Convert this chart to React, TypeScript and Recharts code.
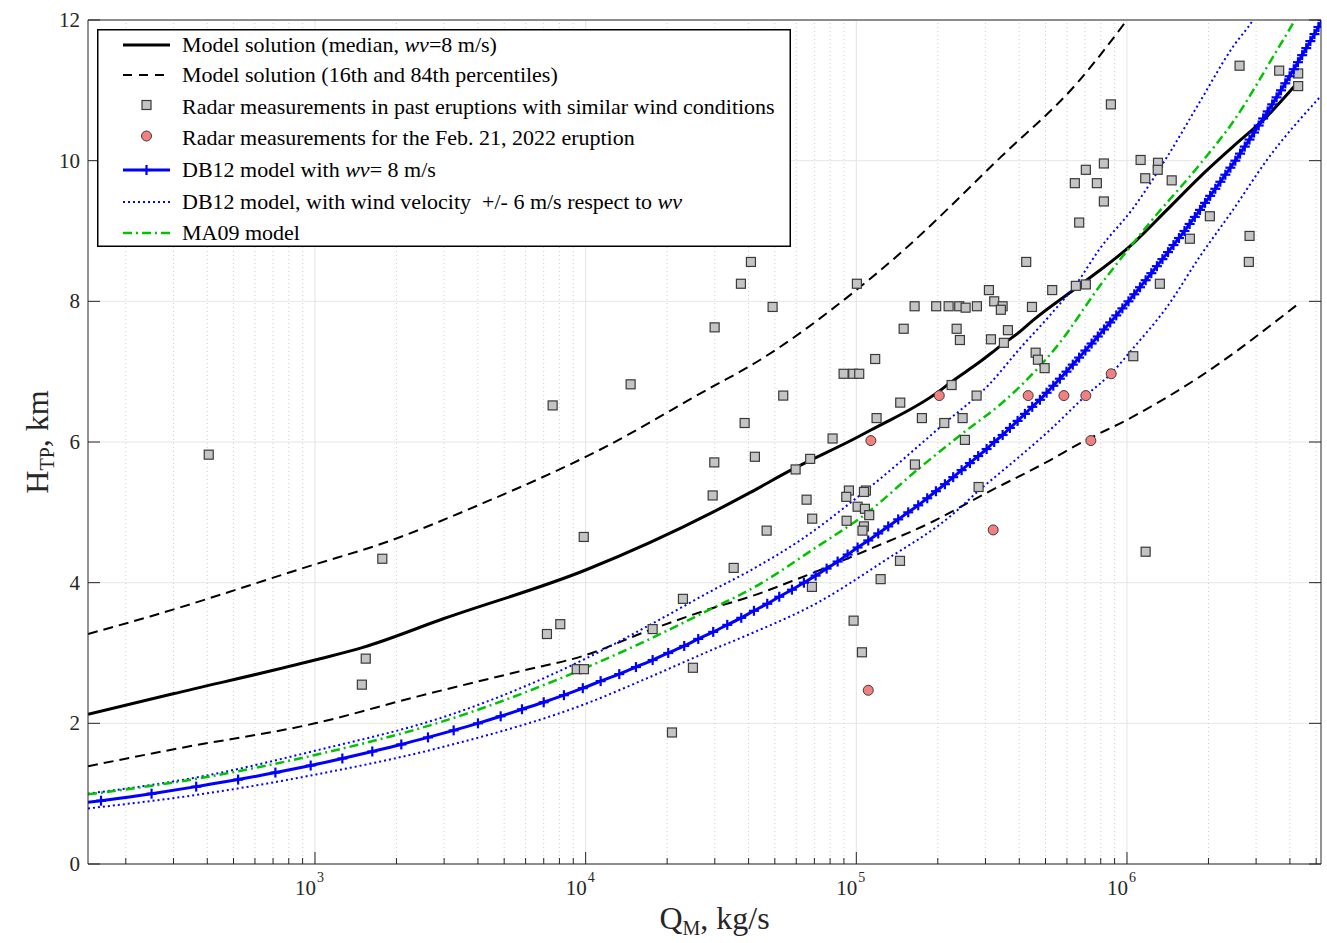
import React from "react";
import {
  ComposedChart,
  Line,
  Scatter,
  XAxis,
  YAxis,
  CartesianGrid,
  ReferenceLine,
  Legend,
} from "recharts";

const W = 1327;
const H = 943;
const AXIS = "#262626";
const FONT = '"Liberation Serif", "Times New Roman", serif';

const X_DOMAIN: [number, number] = [145, 5.21e6];
const Y_DOMAIN: [number, number] = [0, 12];
const DECADES = [1e3, 1e4, 1e5, 1e6];
const MINOR = [
  200, 300, 400, 500, 600, 700, 800, 900,
  2000, 3000, 4000, 5000, 6000, 7000, 8000, 9000,
  2e4, 3e4, 4e4, 5e4, 6e4, 7e4, 8e4, 9e4,
  2e5, 3e5, 4e5, 5e5, 6e5, 7e5, 8e5, 9e5,
  2e6, 3e6, 4e6, 5e6,
];
const X_TICKS = [...MINOR, ...DECADES].sort((a, b) => a - b);
const Y_TICKS = [0, 2, 4, 6, 8, 10, 12];

// [Q (kg/s), H (km)]
const MEDIAN: [number, number][] = [
  [145, 2.13], [299, 2.42], [1000, 2.9], [1504, 3.08], [2996, 3.49], [10000, 4.18],
  [29780, 5.01], [40450, 5.28], [58000, 5.61], [100000, 6.06], [113200, 6.17],
  [202000, 6.72], [221800, 6.84], [286200, 7.14], [339300, 7.36], [402200, 7.57],
  [449300, 7.73], [687300, 8.26], [1052000, 8.82], [1405000, 9.3], [1861000, 9.77],
  [2464000, 10.2], [3290000, 10.63], [4248000, 11.1],
];

const P84: [number, number][] = [
  [145, 3.27], [246, 3.52], [1000, 4.26], [1783, 4.56], [4175, 5.13], [11290, 5.89],
  [29530, 6.79], [40450, 7.08], [100000, 8.16], [144900, 8.68], [339300, 10.04],
  [653100, 11.1], [1000000, 12.0], [1216000, 12.45],
];

const P16: [number, number][] = [
  [145, 1.39], [309, 1.64], [1000, 2.0], [2381, 2.38], [5574, 2.73], [10000, 2.97],
  [16840, 3.31], [29530, 3.64], [40450, 3.8], [60350, 4.05], [109400, 4.46],
  [191900, 4.87], [293600, 5.25], [519100, 5.74], [669900, 5.98], [1052000, 6.36],
  [1861000, 6.93], [4248000, 7.95],
];

const DB12_H = [
  0.8, 0.9, 1.0, 1.1, 1.2, 1.3, 1.4, 1.5, 1.6, 1.7, 1.8, 1.9, 2.0, 2.1, 2.2, 2.3, 2.4,
  2.5, 2.6, 2.7, 2.8, 2.9, 3.0, 3.1, 3.2, 3.3, 3.4, 3.5, 3.6, 3.7, 3.8, 3.9, 4.0, 4.1,
  4.2, 4.3, 4.4, 4.5, 4.6, 4.7, 4.8, 4.9, 5.0, 5.1, 5.2, 5.3, 5.4, 5.5, 5.6, 5.7, 5.8,
  5.9, 6.0, 6.1, 6.2, 6.3, 6.4, 6.5, 6.6, 6.7, 6.8, 6.9, 7.0, 7.1, 7.2, 7.3, 7.4, 7.5,
  7.6, 7.7, 7.8, 7.9, 8.0, 8.1, 8.2, 8.3, 8.4, 8.5, 8.6, 8.7, 8.8, 8.9, 9.0, 9.1, 9.2,
  9.3, 9.4, 9.5, 9.6, 9.7, 9.8, 9.9, 10.0, 10.1, 10.2, 10.3, 10.4, 10.5, 10.6, 10.7,
  10.8, 10.9, 11.0, 11.1, 11.2, 11.3, 11.4, 11.5, 11.6, 11.7, 11.8, 11.9, 12.0,
];
const DB12_Q = [
  101, 162, 249, 364, 520, 714, 964, 1262, 1628, 2084, 2615, 3253, 4000, 4853, 5818,
  6998, 8313, 9760, 11360, 13310, 15340, 17680, 20190, 23130, 26060, 29600, 33360,
  37570, 41860, 46870, 51910, 57830, 64030, 70730, 77690, 85300, 92870, 101100,
  110700, 120500, 131200, 142800, 155500, 169300, 182800, 196800, 212500, 228000,
  244900, 262800, 282000, 303000, 323200, 347200, 369400, 394300, 419700, 446600,
  476800, 504700, 534200, 565000, 597600, 630600, 665500, 702000, 740000, 780300,
  822400, 866900, 913000, 961600, 1012800, 1064000, 1117000, 1172000, 1230000,
  1290000, 1352000, 1418000, 1485000, 1556000, 1631000, 1704000, 1781000, 1861000,
  1943000, 2029000, 2120000, 2213000, 2309000, 2410000, 2514000, 2617000, 2724000,
  2835000, 2948000, 3066000, 3185000, 3310000, 3439000, 3570000, 3707000, 3845000,
  3988000, 4133000, 4283000, 4438000, 4596000, 4759000, 4928000, 5098000, 5275000,
];

const DB12_LOW_WIND: [number, number][] = [
  [145, 1.0], [376, 1.24], [1000, 1.61], [3153, 2.12], [10000, 2.92], [17280, 3.4],
  [29740, 3.9], [40450, 4.17], [61900, 4.6], [106800, 5.29], [212500, 6.27],
  [311600, 6.83], [402200, 7.33], [519100, 7.8], [653100, 8.26], [794300, 8.75],
  [1052000, 9.32], [1405000, 10.05], [1861000, 10.84], [2464000, 11.62],
  [2921000, 12.0], [3234000, 12.3],
];

const DB12_HIGH_WIND: [number, number][] = [
  [145, 0.79], [376, 0.99], [1000, 1.27], [3153, 1.69], [10200, 2.29], [16840, 2.64],
  [29530, 3.05], [40450, 3.27], [71530, 3.71], [125700, 4.3], [221800, 4.94],
  [293600, 5.36], [339300, 5.56], [519100, 6.17], [705100, 6.66], [871900, 6.97],
  [1052000, 7.33], [1405000, 7.92], [1861000, 8.64], [2464000, 9.3], [3290000, 10.01],
  [5210000, 10.92],
];

const MA09: [number, number][] = [
  [145, 0.99], [376, 1.22], [1000, 1.55], [3153, 2.06], [10000, 2.79], [16840, 3.18],
  [29530, 3.64], [40450, 3.9], [71530, 4.51], [109400, 4.99], [167500, 5.6],
  [256200, 6.17], [339300, 6.53], [412600, 6.83], [550900, 7.36], [794300, 8.22],
  [1216000, 9.12], [1861000, 9.95], [2464000, 10.55], [3583000, 11.57],
  [4176000, 12.0], [4547000, 12.25],
];

const PAST_RADAR: [number, number][] = [
  [405, 5.82], [1773, 4.34], [1540, 2.92], [1490, 2.55], [7551, 6.52], [7194, 3.27],
  [8058, 3.41], [9270, 2.77], [9856, 2.77], [9840, 4.65], [40800, 8.56], [37470, 8.25],
  [49060, 7.92], [29960, 7.63], [14660, 6.82], [53700, 6.66], [38670, 6.27],
  [29870, 5.71], [42200, 5.79], [59670, 5.61], [29460, 5.24], [46630, 4.74],
  [35230, 4.21], [22880, 3.77], [17680, 3.34], [24910, 2.79], [20840, 1.87],
  [100500, 8.25], [164200, 7.93], [197300, 7.93], [219300, 7.93], [240000, 7.93],
  [253400, 7.91], [279000, 7.93], [309000, 8.16], [323200, 8.0], [347200, 7.93],
  [342000, 7.88], [149600, 7.61], [234800, 7.61], [241400, 7.45], [363200, 7.59],
  [314400, 7.46], [351000, 7.41], [117400, 7.18], [89750, 6.97], [97400, 6.97],
  [102500, 6.97], [224900, 6.81], [145300, 6.56], [278200, 6.66], [118800, 6.34],
  [174700, 6.34], [211300, 6.27], [247000, 6.34], [81720, 6.05], [251900, 6.03],
  [67540, 5.76], [164600, 5.68], [65500, 5.18], [68700, 4.91], [283000, 5.36],
  [93900, 5.31], [91800, 5.22], [108500, 5.31], [106700, 5.29], [101100, 5.08],
  [107600, 5.05], [111600, 4.96], [92060, 4.88], [106700, 4.8], [105400, 4.74],
  [145000, 4.31], [123000, 4.05], [68550, 3.94], [97720, 3.46], [104900, 3.01],
  [424300, 8.56], [2820000, 8.56], [529300, 8.16], [647400, 8.22], [704700, 8.24],
  [1323000, 8.25], [445600, 7.92], [459800, 7.27], [468800, 7.17], [496300, 7.05],
  [1055000, 7.22], [1172000, 4.44], [2606000, 11.35], [3650000, 11.28],
  [4290000, 11.24], [4290000, 11.06], [872300, 10.8], [1123000, 10.01],
  [1302000, 9.97], [1299000, 9.87], [1168000, 9.75], [1463000, 9.72], [704700, 9.87],
  [821600, 9.96], [641800, 9.68], [774000, 9.68], [821600, 9.42], [665900, 9.12],
  [2024000, 9.21], [1708000, 8.89], [2837000, 8.93],
];

const FEB2022_RADAR: [number, number][] = [
  [202500, 6.66], [431500, 6.66], [584700, 6.66], [704700, 6.66], [874300, 6.97],
  [113200, 6.02], [320400, 4.75], [110700, 2.47], [735400, 6.02],
];

const toPoints = (pairs: [number, number][]) => pairs.map(([q, h]) => ({ q, h }));
const db12 = DB12_H.map((h, i) => ({ q: DB12_Q[i], h }));

const BLUE = "#0000ff";
const GREEN = "#00c400";

function BottomTick({ x, y, payload }: any) {
  const v = payload.value;
  const major = DECADES.includes(v);
  return (
    <g>
      <line x1={x} x2={x} y1={y} y2={y - (major ? 12 : 6)} stroke={AXIS} />
      {major && (
        <g fontFamily={FONT} fill={AXIS}>
          <text x={x + 1} y={y + 31} fontSize={21} textAnchor="end">10</text>
          <text x={x + 2} y={y + 18} fontSize={14}>{Math.round(Math.log10(v))}</text>
        </g>
      )}
    </g>
  );
}

function TopTick({ x, y, payload }: any) {
  const major = DECADES.includes(payload.value);
  return <line x1={x} x2={x} y1={y} y2={y + (major ? 12 : 6)} stroke={AXIS} />;
}

function LeftTick({ x, y, payload }: any) {
  return (
    <g>
      <line x1={x} x2={x + 12} y1={y} y2={y} stroke={AXIS} />
      <text x={x - 8} y={y + 7} textAnchor="end" fontSize={21} fontFamily={FONT} fill={AXIS}>
        {payload.value}
      </text>
    </g>
  );
}

function RightTick({ x, y }: any) {
  return <line x1={x} x2={x - 12} y1={y} y2={y} stroke={AXIS} />;
}

function Square({ cx, cy }: any) {
  return <rect x={cx - 4.5} y={cy - 4.5} width={9} height={9} fill="#c4c4c4" stroke="#3a3a3a" strokeWidth={1.2} />;
}

function Circle({ cx, cy }: any) {
  return <circle cx={cx} cy={cy} r={5} fill="#f47f7f" stroke="#3a3a3a" strokeWidth={1} />;
}

function Plus({ cx, cy }: any) {
  if (cx == null || cy == null) return null;
  return (
    <g stroke={BLUE} strokeWidth={2.2}>
      <line x1={cx - 5} x2={cx + 5} y1={cy} y2={cy} />
      <line x1={cx} x2={cx} y1={cy - 5} y2={cy + 5} />
    </g>
  );
}

function LegendBox() {
  const rowY = [16, 46, 78, 109, 141, 173, 204];
  const tx = 85;
  const ts = { fontFamily: FONT, fontSize: 22, fill: "#000" };
  const wv = <tspan fontStyle="italic">wv</tspan>;
  return (
    <svg width={694} height={218} style={{ display: "block" }}>
      <rect x={0.75} y={0.75} width={692.5} height={216.5} fill="#fff" stroke="#000" strokeWidth={1.5} />
      <line x1={26} x2={73} y1={rowY[0]} y2={rowY[0]} stroke="#000" strokeWidth={3} />
      <text x={tx} y={rowY[0] + 7} {...ts}>Model solution (median, {wv}=8 m/s)</text>
      <line x1={26} x2={73} y1={rowY[1]} y2={rowY[1]} stroke="#000" strokeWidth={2} strokeDasharray="9 7" />
      <text x={tx} y={rowY[1] + 7} {...ts}>Model solution (16th and 84th percentiles)</text>
      <Square cx={49.5} cy={rowY[2] - 2} />
      <text x={tx} y={rowY[2] + 7} {...ts}>Radar measurements in past eruptions with similar wind conditions</text>
      <Circle cx={49.5} cy={rowY[3] - 2} />
      <text x={tx} y={rowY[3] + 7} {...ts}>Radar measurements for the Feb. 21, 2022 eruption</text>
      <line x1={26} x2={73} y1={rowY[4]} y2={rowY[4]} stroke={BLUE} strokeWidth={3} />
      <Plus cx={49.5} cy={rowY[4]} />
      <text x={tx} y={rowY[4] + 7} {...ts}>DB12 model with {wv}= 8 m/s</text>
      <line x1={26} x2={73} y1={rowY[5]} y2={rowY[5]} stroke={BLUE} strokeWidth={2} strokeDasharray="2 3" />
      <text x={tx} y={rowY[5] + 7} {...ts} style={{ whiteSpace: "pre" }}>
        DB12 model, with wind velocity {"\u00a0"}+/- 6 m/s respect to {wv}
      </text>
      <line x1={26} x2={73} y1={rowY[6]} y2={rowY[6]} stroke={GREEN} strokeWidth={2.5} strokeDasharray="9 4 2 4" />
      <text x={tx} y={rowY[6] + 7} {...ts}>MA09 model</text>
    </svg>
  );
}

export default function App() {
  return (
    <div style={{ position: "absolute", left: 0, top: 0, width: W, height: H, background: "#fff" }}>
      <ComposedChart width={W} height={H} margin={{ top: 15, right: 0, bottom: 39, left: 28 }}>
        <CartesianGrid vertical={false} stroke="#e6e6e6" />
        {MINOR.map((v) => (
          <ReferenceLine key={"m" + v} x={v} stroke="#cfcfcf" strokeDasharray="1 3" />
        ))}
        {DECADES.map((v) => (
          <ReferenceLine key={"d" + v} x={v} stroke="#e3e3e3" />
        ))}
        <XAxis
          dataKey="q"
          type="number"
          scale="log"
          domain={X_DOMAIN}
          allowDataOverflow
          ticks={X_TICKS}
          interval={0}
          tickSize={0}
          tickMargin={0}
          tickLine={false}
          tick={<BottomTick />}
          height={40}
          axisLine={{ stroke: AXIS }}
          label={{
            content: ({ viewBox }: any) => (
              <text
                x={viewBox.x + viewBox.width / 2 + 10}
                y={viewBox.y + 65}
                textAnchor="middle"
                fontFamily={FONT}
                fill={AXIS}
              >
                <tspan fontSize={32}>Q</tspan>
                <tspan fontSize={20} dy={6}>M</tspan>
                <tspan fontSize={32} dy={-6}>, kg/s</tspan>
              </text>
            ),
          }}
        />
        <XAxis
          xAxisId="top"
          orientation="top"
          type="number"
          scale="log"
          domain={X_DOMAIN}
          allowDataOverflow
          ticks={X_TICKS}
          interval={0}
          tickSize={0}
          tickMargin={0}
          tickLine={false}
          tick={<TopTick />}
          height={5}
          axisLine={{ stroke: AXIS }}
        />
        <YAxis
          dataKey="h"
          type="number"
          domain={Y_DOMAIN}
          allowDataOverflow
          ticks={Y_TICKS}
          interval={0}
          tickSize={0}
          tickMargin={0}
          tickLine={false}
          tick={<LeftTick />}
          width={60}
          axisLine={{ stroke: AXIS }}
          label={{
            content: ({ viewBox }: any) => {
              const cx = viewBox.x + 20;
              const cy = viewBox.y + viewBox.height / 2;
              return (
                <text
                  x={cx}
                  y={cy}
                  transform={`rotate(-90 ${cx} ${cy})`}
                  textAnchor="middle"
                  fontFamily={FONT}
                  fill={AXIS}
                >
                  <tspan fontSize={32}>H</tspan>
                  <tspan fontSize={20} dy={6}>TP</tspan>
                  <tspan fontSize={32} dy={-6}>, km</tspan>
                </text>
              );
            },
          }}
        />
        <YAxis
          yAxisId="right"
          orientation="right"
          type="number"
          domain={Y_DOMAIN}
          allowDataOverflow
          ticks={Y_TICKS}
          interval={0}
          tickSize={0}
          tickMargin={0}
          tickLine={false}
          tick={<RightTick />}
          width={6}
          axisLine={{ stroke: AXIS }}
        />

        <Line data={toPoints(MEDIAN)} dataKey="h" type="monotone" stroke="#000" strokeWidth={3} dot={false} isAnimationActive={false} />
        <Line data={toPoints(P84)} dataKey="h" type="monotone" stroke="#000" strokeWidth={2} strokeDasharray="10 6" dot={false} isAnimationActive={false} />
        <Line data={toPoints(P16)} dataKey="h" type="monotone" stroke="#000" strokeWidth={2} strokeDasharray="10 6" dot={false} isAnimationActive={false} />
        <Scatter data={toPoints(PAST_RADAR)} shape={<Square />} isAnimationActive={false} />
        <Scatter data={toPoints(FEB2022_RADAR)} shape={<Circle />} isAnimationActive={false} />
        <Line data={db12} dataKey="h" type="monotone" stroke={BLUE} strokeWidth={3} dot={<Plus />} isAnimationActive={false} />
        <Line data={toPoints(DB12_LOW_WIND)} dataKey="h" type="monotone" stroke={BLUE} strokeWidth={2} strokeDasharray="2 3" dot={false} isAnimationActive={false} />
        <Line data={toPoints(DB12_HIGH_WIND)} dataKey="h" type="monotone" stroke={BLUE} strokeWidth={2} strokeDasharray="2 3" dot={false} isAnimationActive={false} />
        <Line data={toPoints(MA09)} dataKey="h" type="monotone" stroke={GREEN} strokeWidth={2.5} strokeDasharray="9 4 2 4" dot={false} isAnimationActive={false} />

        <Legend
          layout="horizontal"
          verticalAlign="middle"
          align="center"
          content={() => <LegendBox />}
          wrapperStyle={{ left: 97, top: 29, width: 694, height: 218 }}
        />
      </ComposedChart>
    </div>
  );
}
